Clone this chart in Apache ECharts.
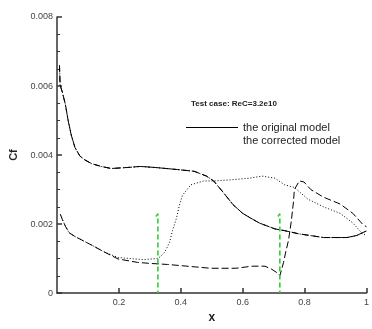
<!DOCTYPE html>
<html><head><meta charset="utf-8">
<script src="https://cdn.jsdelivr.net/npm/echarts@6/dist/echarts.min.js"></script>
<style>html,body{margin:0;padding:0;background:#fff}#c{width:372px;height:329px}</style>
</head><body><div id="c"></div>
<script>
const xTicks = [0.2, 0.4, 0.6, 0.8, 1];
const yTicks = [0, 0.002, 0.004, 0.006, 0.008];
const seriesNames = ['the original model', 'the corrected model'];
const titleText = 'Test case: ReC=3.2e10';

// upper surface, original model
const upperOriginal = [[0.008,0.0066],[0.01,0.00603],[0.017,0.00583],[0.027,0.00547],[0.036,0.005],[0.046,0.00458],[0.058,0.00422],[0.074,0.00397],[0.09,0.00386],[0.112,0.00375],[0.143,0.00367],[0.175,0.00361],[0.228,0.00364],[0.269,0.00367],[0.317,0.00364],[0.389,0.00358],[0.443,0.00353],[0.483,0.00339],[0.506,0.00325],[0.537,0.00292],[0.569,0.00256],[0.6,0.00231],[0.632,0.00214],[0.654,0.00203],[0.704,0.00186],[0.735,0.00181],[0.78,0.00172],[0.861,0.00161],[0.937,0.00161],[0.969,0.00167],[0.987,0.00175],[1.0,0.0018]];
// upper surface, corrected model
const upperCorrected = [[0.008,0.0066],[0.01,0.00603],[0.017,0.00583],[0.027,0.00547],[0.036,0.005],[0.046,0.00458],[0.058,0.00422],[0.074,0.00397],[0.09,0.00386],[0.112,0.00375],[0.143,0.00367],[0.175,0.00361],[0.228,0.00364],[0.269,0.00367],[0.317,0.00364],[0.389,0.00358],[0.443,0.00353],[0.483,0.00339],[0.506,0.00325],[0.537,0.00292],[0.569,0.00256],[0.6,0.00231],[0.632,0.00214],[0.654,0.00203],[0.704,0.00186],[0.735,0.00181],[0.78,0.00172],[0.861,0.00161],[0.937,0.00161],[0.969,0.00167],[0.987,0.00175],[1.0,0.0018]];
// lower surface, original model
const lowerOriginal = [[0.011,0.00228],[0.017,0.00214],[0.027,0.00194],[0.039,0.00175],[0.058,0.00164],[0.112,0.00139],[0.153,0.00119],[0.197,0.00103],[0.238,0.001],[0.279,0.00097],[0.323,0.001],[0.335,0.00106],[0.348,0.00119],[0.364,0.00147],[0.373,0.00181],[0.386,0.00217],[0.395,0.00253],[0.405,0.00283],[0.433,0.00314],[0.474,0.00325],[0.506,0.00325],[0.559,0.00328],[0.622,0.00333],[0.663,0.00339],[0.704,0.00333],[0.735,0.00314],[0.767,0.00306],[0.811,0.00272],[0.861,0.0025],[0.915,0.00231],[0.956,0.00203],[0.987,0.00172],[1.0,0.00167]];
// lower surface, corrected model
const lowerCorrected = [[0.011,0.00228],[0.017,0.00214],[0.027,0.00194],[0.039,0.00175],[0.058,0.00164],[0.112,0.00139],[0.153,0.00119],[0.197,0.00099],[0.26,0.00089],[0.301,0.00086],[0.357,0.00083],[0.42,0.00078],[0.496,0.00072],[0.578,0.00072],[0.631,0.00078],[0.672,0.00078],[0.694,0.00069],[0.716,0.00056],[0.72,0.0005],[0.732,0.00089],[0.739,0.00119],[0.748,0.00153],[0.757,0.00208],[0.764,0.00264],[0.767,0.003],[0.783,0.00325],[0.798,0.00322],[0.82,0.003],[0.861,0.00278],[0.915,0.00258],[0.956,0.00231],[0.987,0.002],[1.0,0.00192]];
// transition markers
const transition1 = [[0.32,0.00222],[0.326,0.0023],[0.326,0]];
const transition2 = [[0.714,0.00222],[0.72,0.0023],[0.72,0]];

const chart = echarts.init(document.getElementById('c'), null, {renderer:'canvas'});
const lbl = {fontFamily:'Liberation Sans, Arial', fontSize:9, color:'#444'};
function line(name, data, type, w){
  return {name, type:'line', data, symbol:'none', silent:true, animation:false,
    lineStyle:{color:'#000', width:w||1, type}, itemStyle:{color:'#000'}};
}
function green(data){
  return {type:'line', data, symbol:'none', silent:true, animation:false,
    lineStyle:{color:'#33cc33', width:1.6, type:[5,3]}};
}
chart.setOption({
  animation:false,
  title:{text:titleText, left:186, top:95, textStyle:{fontFamily:'Liberation Sans, Arial', fontSize:8, fontWeight:'bold', color:'#222'}},
  legend:{left:180, top:117, orient:'vertical', itemWidth:52, itemHeight:10, itemGap:2, selectedMode:false,
    textStyle:{fontFamily:'Liberation Sans, Arial', fontSize:11, color:'#222', padding:[0,0,0,0]},
    data:[{name:seriesNames[0], lineStyle:{type:'solid', width:1, color:'#000'}, itemStyle:{opacity:0}},
          {name:seriesNames[1], lineStyle:{opacity:0}, itemStyle:{opacity:0}}]},
  grid:{left:52, right:4, top:17, bottom:24, containLabel:false},
  xAxis:{type:'value', min:0, max:1, interval:0.2, name:'x', nameLocation:'middle', nameGap:11,
    nameTextStyle:{fontFamily:'Liberation Sans, Arial', fontSize:12, fontWeight:'bold', color:'#222'},
    axisLine:{lineStyle:{color:'#333', width:1.5}},
    axisTick:{inside:true, length:5, lineStyle:{color:'#333', width:1.5}},
    axisLabel:Object.assign({showMinLabel:false, margin:5, formatter:v=>xTicks.includes(+v.toFixed(2))?String(+v.toFixed(2)):''}, lbl),
    splitLine:{show:false}},
  yAxis:{type:'value', min:0, max:0.008, interval:0.002, name:'Cf', nameLocation:'middle', nameGap:38, nameRotate:90,
    nameTextStyle:{fontFamily:'Liberation Sans, Arial', fontSize:11, fontWeight:'bold', color:'#222'},
    axisLine:{show:true, lineStyle:{color:'#333', width:1.5}},
    axisTick:{inside:true, length:5, lineStyle:{color:'#333', width:1.5}},
    minorTick:{show:true, splitNumber:4, length:3, lineStyle:{color:'#333'}},
    axisLabel:Object.assign({margin:4, formatter:v=>{const r=yTicks.find(t=>Math.abs(t-v)<1e-9);return r===undefined?'':String(r);}}, lbl),
    splitLine:{show:false}},
  series:[
    line(seriesNames[0], upperOriginal, [6,2,1,2]),
    line(seriesNames[1], upperCorrected, [7,3]),
    line(seriesNames[0], lowerOriginal, [1,2]),
    line(seriesNames[1], lowerCorrected, [7,3]),
    green(transition1),
    green(transition2)
  ]
});
</script></body></html>
